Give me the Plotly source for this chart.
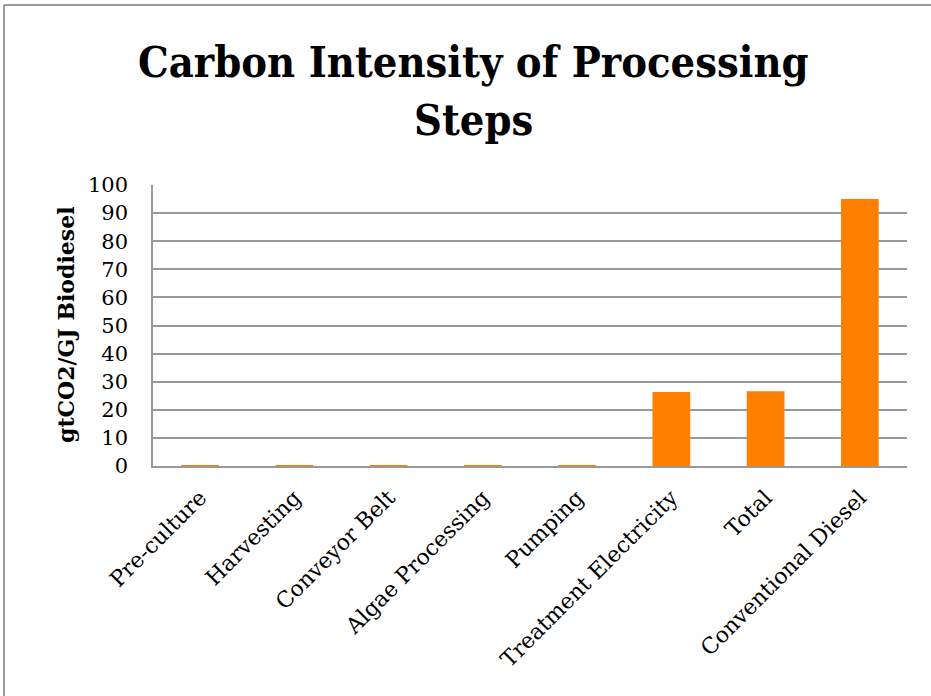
import plotly.graph_objects as go

categories = ["Pre-culture", "Harvesting", "Conveyor Belt", "Algae Processing",
              "Pumping", "Treatment Electricity", "Total", "Conventional Diesel"]
values = [0.15, 0.15, 0.15, 0.15, 0.15, 26.3, 26.6, 95.0]
y_ticks = [0, 10, 20, 30, 40, 50, 60, 70, 80, 90, 100]
title_lines = ["Carbon Intensity of Processing", "Steps"]
y_title = "gtCO2/GJ Biodiesel"

W, H = 931, 696
L, R, T, B = 153, 24, 185, 230
PW, PH = W - L - R, H - T - B


def px_x(x):
    return (x - L) / PW


def px_y(y):
    return (H - B - y) / PH


fig = go.Figure()
fig.add_trace(go.Bar(
    x=categories, y=values,
    marker=dict(color="#FF7F00", line=dict(width=0)),
    width=0.4,
))

serif = "'DejaVu Serif', serif"
title_font = "'DejaVu Serif Condensed', 'DejaVu Serif', serif"

fig.update_layout(
    width=W, height=H,
    margin=dict(l=L, r=R, t=T, b=B),
    plot_bgcolor="white", paper_bgcolor="white",
    showlegend=False,
    xaxis=dict(
        tickangle=-45,
        tickfont=dict(family=serif, size=22, color="black"),
        showline=True, linecolor="#999999", linewidth=2,
        ticks="",
        ticklabelstandoff=8,
        showgrid=False,
    ),
    yaxis=dict(
        range=[0, 100],
        tickvals=y_ticks,
        tickfont=dict(family=serif, size=21, color="black"),
        showgrid=True, gridcolor="#9a9a9a", gridwidth=1.5,
        showline=True, linecolor="#999999", linewidth=1.5,
        ticks="", ticklen=0,
        ticklabelstandoff=19,
        zeroline=False,
    ),
)

# title lines
for text, yc in zip(title_lines, [62, 120]):
    fig.add_annotation(
        text="<b>" + text + "</b>", xref="paper", yref="paper",
        x=px_x(473), y=px_y(yc), xanchor="center", yanchor="middle",
        showarrow=False,
        font=dict(family=title_font, size=43, color="black"),
    )

# y axis title
fig.add_annotation(
    text="<b>" + y_title + "</b>", xref="paper", yref="paper",
    x=px_x(66), y=px_y(325), xanchor="center", yanchor="middle",
    textangle=-90, showarrow=False,
    font=dict(family=serif, size=22, color="black"),
)

# outer frame (top and left edges) as in reference
fig.add_shape(type="line", xref="paper", yref="paper",
              x0=px_x(4), x1=px_x(W), y0=px_y(5), y1=px_y(5),
              line=dict(color="#999999", width=2))
fig.add_shape(type="line", xref="paper", yref="paper",
              x0=px_x(4), x1=px_x(4), y0=px_y(5), y1=px_y(H),
              line=dict(color="#999999", width=2))

fig.write_html("out.html", config={"displayModeBar": False},
               post_script="document.body.style.margin='0';")
